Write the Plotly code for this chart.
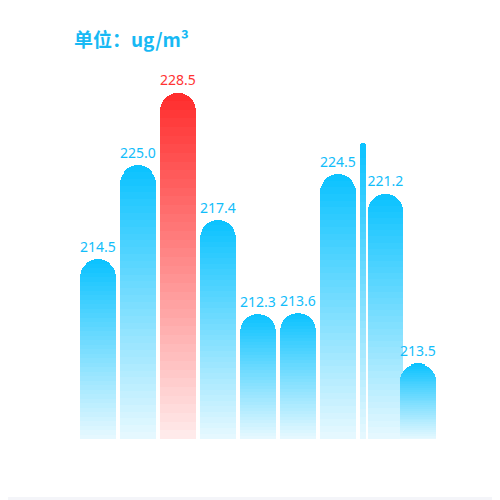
import plotly.graph_objects as go

# ---- data ----
categories = ["1", "2", "3", "4", "5", "6", "7", "8", "9", "10"]
values = [214.5, 225.0, 228.5, 217.4, 212.3, 213.6, 224.5, None, 221.2, 213.5]
# drawn bar heights (the picture is an animation frame, so heights are read directly)
bar_heights = [180, 274, 346.5, 219, 125, 126, 265, 296, 245.5, 76]

# ---- layout / style (positions in slot units, 1 slot = 40 px) ----
x_pos = [0, 1, 2, 3, 4, 5, 6, 6.625, 7.1875, 8]
widths = [0.9, 0.9, 0.9, 0.9, 0.9, 0.9, 0.9, 0.15, 0.875, 0.9]
LABEL_GAP = 4

BLUE_TOP = (10, 194, 255)
BLUE_BOT = (232, 249, 255)
RED_TOP = (255, 44, 44)
RED_BOT = (255, 236, 236)
N = 40

vmax = max(v for v in values if v is not None)
is_max = [v is not None and v == vmax for v in values]


def mix(c1, c2, t):
    return "rgb(%d,%d,%d)" % tuple(round(a + (b - a) * t) for a, b in zip(c1, c2))


fig = go.Figure()
for k in range(N):
    t = (k + 0.5) / N  # 0 bottom -> 1 top
    cols = [mix(RED_BOT, RED_TOP, t) if m else mix(BLUE_BOT, BLUE_TOP, t) for m in is_max]
    fig.add_trace(go.Bar(
        x=x_pos, y=[h / N for h in bar_heights], width=widths,
        marker=dict(color=cols, line=dict(width=0), cornerradius="50%"),
        hoverinfo="skip", showlegend=False,
    ))

lx = [x for x, v in zip(x_pos, values) if v is not None]
ly = [h + LABEL_GAP for h, v in zip(bar_heights, values) if v is not None]
lt = [f"{v:.1f}" for v in values if v is not None]
lc = ["#ff3333" if m else "#12bdfa" for m, v in zip(is_max, values) if v is not None]
fig.add_trace(go.Scatter(
    x=lx, y=ly, mode="text", text=lt, textposition="top center",
    textfont=dict(size=14, color=lc, family="Noto Sans"),
    hoverinfo="skip", showlegend=False, cliponaxis=False,
))

L, T, PH, PW = 70, 52, 379, 360
fig.update_layout(
    width=500, height=500,
    margin=dict(l=L, r=500 - L - PW, t=T, b=500 - T - PH),
    barmode="stack", bargap=0,
    paper_bgcolor="#f4f5f9", plot_bgcolor="rgba(0,0,0,0)",
    xaxis=dict(range=[-0.5, 8.5], visible=False, fixedrange=True),
    yaxis=dict(range=[0, PH], visible=False, fixedrange=True),
    shapes=[dict(type="rect", xref="paper", yref="paper",
                 x0=(0 - L) / PW, x1=(510 - L) / PW,
                 y0=(T + PH - 489) / PH, y1=(T + PH + 5) / PH,
                 fillcolor="white", line=dict(width=0), layer="below")],
    annotations=[dict(text="<b>单位：ug/m³</b>", xref="paper", yref="paper",
                      x=(64 - L) / PW, y=(T + PH - 30) / PH, xanchor="left", yanchor="middle",
                      showarrow=False,
                      font=dict(size=19, color="#17b9f4", family="Noto Sans CJK SC"))],
)

fig.write_html("out.html")
